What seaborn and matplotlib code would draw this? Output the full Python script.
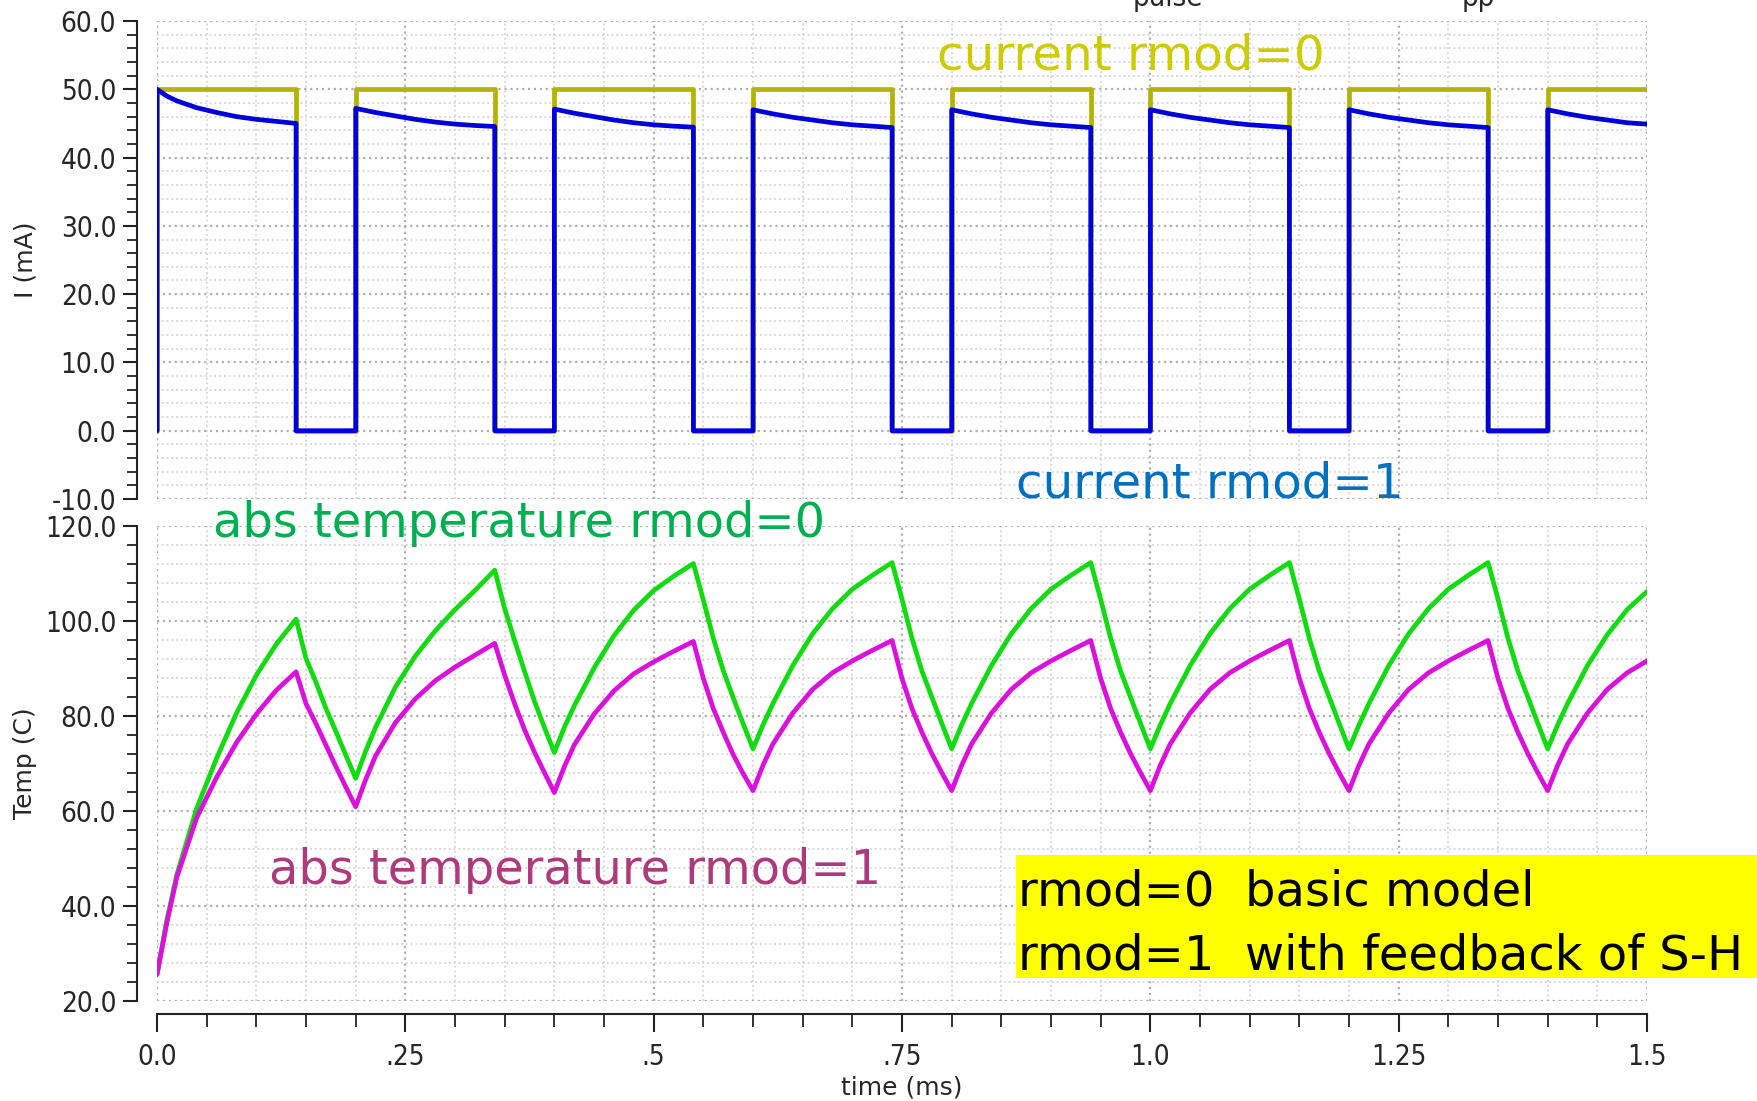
import matplotlib
matplotlib.use("Agg")
import matplotlib.pyplot as plt
import seaborn as sns
import pandas as pd
from matplotlib.ticker import MultipleLocator, FuncFormatter
from matplotlib.patches import Rectangle

# ---------------- data ----------------
# current waveforms (time in ms, current in mA); repeated times give the vertical edges
i_time = [
    0.00, 0.00, 0.01, 0.02, 0.04, 0.06, 0.08, 0.10, 0.12, 0.14, 0.14,
    0.20, 0.20, 0.22, 0.24, 0.26, 0.28, 0.30, 0.32, 0.34, 0.34,
    0.40, 0.40, 0.42, 0.44, 0.46, 0.48, 0.50, 0.52, 0.54, 0.54,
    0.60, 0.60, 0.62, 0.64, 0.66, 0.68, 0.70, 0.72, 0.74, 0.74,
    0.80, 0.80, 0.82, 0.84, 0.86, 0.88, 0.90, 0.92, 0.94, 0.94,
    1.00, 1.00, 1.02, 1.04, 1.06, 1.08, 1.10, 1.12, 1.14, 1.14,
    1.20, 1.20, 1.22, 1.24, 1.26, 1.28, 1.30, 1.32, 1.34, 1.34,
    1.40, 1.40, 1.42, 1.44, 1.46, 1.48, 1.50,
]
current_rmod0 = [
    0.0, 50.0, 50.0, 50.0, 50.0, 50.0, 50.0, 50.0, 50.0, 50.0, 0.0,
    0.0, 50.0, 50.0, 50.0, 50.0, 50.0, 50.0, 50.0, 50.0, 0.0,
    0.0, 50.0, 50.0, 50.0, 50.0, 50.0, 50.0, 50.0, 50.0, 0.0,
    0.0, 50.0, 50.0, 50.0, 50.0, 50.0, 50.0, 50.0, 50.0, 0.0,
    0.0, 50.0, 50.0, 50.0, 50.0, 50.0, 50.0, 50.0, 50.0, 0.0,
    0.0, 50.0, 50.0, 50.0, 50.0, 50.0, 50.0, 50.0, 50.0, 0.0,
    0.0, 50.0, 50.0, 50.0, 50.0, 50.0, 50.0, 50.0, 50.0, 0.0,
    0.0, 50.0, 50.0, 50.0, 50.0, 50.0, 50.0,
]
current_rmod1 = [
    0.0, 50.0, 49.0, 48.3, 47.3, 46.6, 46.0, 45.6, 45.3, 45.0, 0.0,
    0.0, 47.2, 46.6, 46.1, 45.6, 45.2, 44.9, 44.7, 44.55, 0.0,
    0.0, 47.1, 46.5, 46.0, 45.5, 45.1, 44.8, 44.6, 44.45, 0.0,
    0.0, 47.0, 46.4, 45.9, 45.5, 45.1, 44.8, 44.6, 44.4, 0.0,
    0.0, 47.0, 46.4, 45.9, 45.5, 45.1, 44.8, 44.6, 44.4, 0.0,
    0.0, 47.0, 46.4, 45.9, 45.5, 45.1, 44.8, 44.6, 44.4, 0.0,
    0.0, 47.0, 46.4, 45.9, 45.5, 45.1, 44.8, 44.6, 44.4, 0.0,
    0.0, 47.0, 46.4, 45.9, 45.5, 45.1, 44.9,
]

# temperatures (C)
t_time = [
    0.00, 0.01, 0.02, 0.04, 0.06, 0.08, 0.10, 0.12, 0.14, 0.15, 0.16, 0.17, 0.18, 0.19,
    0.20, 0.21, 0.22, 0.24, 0.26, 0.28, 0.30, 0.32, 0.34, 0.35, 0.36, 0.37, 0.38, 0.39,
    0.40, 0.41, 0.42, 0.44, 0.46, 0.48, 0.50, 0.52, 0.54, 0.55, 0.56, 0.57, 0.58, 0.59,
    0.60, 0.61, 0.62, 0.64, 0.66, 0.68, 0.70, 0.72, 0.74, 0.75, 0.76, 0.77, 0.78, 0.79,
    0.80, 0.81, 0.82, 0.84, 0.86, 0.88, 0.90, 0.92, 0.94, 0.95, 0.96, 0.97, 0.98, 0.99,
    1.00, 1.01, 1.02, 1.04, 1.06, 1.08, 1.10, 1.12, 1.14, 1.15, 1.16, 1.17, 1.18, 1.19,
    1.20, 1.21, 1.22, 1.24, 1.26, 1.28, 1.30, 1.32, 1.34, 1.35, 1.36, 1.37, 1.38, 1.39,
    1.40, 1.41, 1.42, 1.44, 1.46, 1.48, 1.50,
]
temp_rmod0 = [
    25.5, 37.0, 46.5, 60.5, 71.0, 80.5, 88.5, 95.0, 100.3, 92.0, 87.0, 81.5, 76.7, 71.7,
    66.8, 72.5, 77.5, 86.0, 92.5, 97.8, 102.3, 106.3, 110.6, 102.5, 95.8, 89.3, 83.0, 77.5,
    72.2, 77.5, 82.0, 90.0, 96.8, 102.2, 106.3, 109.3, 112.0, 104.3, 96.3, 89.5, 83.8, 78.3,
    73.0, 78.0, 82.5, 90.5, 97.2, 102.5, 106.6, 109.5, 112.2, 104.5, 96.3, 89.4, 83.9, 78.4,
    73.0, 78.0, 82.5, 90.5, 97.2, 102.5, 106.6, 109.5, 112.2, 104.5, 96.3, 89.4, 83.9, 78.4,
    73.0, 78.0, 82.5, 90.5, 97.2, 102.5, 106.6, 109.5, 112.2, 104.5, 96.3, 89.4, 83.9, 78.4,
    73.0, 78.0, 82.5, 90.5, 97.2, 102.5, 106.6, 109.5, 112.2, 104.5, 96.3, 89.4, 83.9, 78.4,
    73.0, 78.0, 82.5, 90.5, 97.0, 102.3, 106.1,
]
temp_rmod1 = [
    25.5, 36.5, 46.0, 58.5, 67.0, 74.3, 80.3, 85.3, 89.2, 82.5, 78.3, 73.8, 69.3, 65.0,
    60.8, 66.5, 71.5, 78.5, 83.5, 87.3, 90.2, 92.7, 95.2, 88.5, 82.5, 77.0, 72.3, 68.0,
    63.8, 69.2, 73.8, 80.3, 85.2, 88.8, 91.3, 93.5, 95.6, 87.8, 81.5, 76.5, 71.8, 67.8,
    64.2, 69.5, 74.0, 80.5, 85.5, 89.0, 91.5, 93.7, 95.8, 87.8, 81.5, 76.5, 72.0, 68.0,
    64.2, 69.5, 74.0, 80.5, 85.5, 89.0, 91.5, 93.7, 95.8, 87.8, 81.5, 76.5, 72.0, 68.0,
    64.2, 69.5, 74.0, 80.5, 85.5, 89.0, 91.5, 93.7, 95.8, 87.8, 81.5, 76.5, 72.0, 68.0,
    64.2, 69.5, 74.0, 80.5, 85.5, 89.0, 91.5, 93.7, 95.8, 87.8, 81.5, 76.5, 72.0, 68.0,
    64.2, 69.5, 74.0, 80.5, 85.5, 89.0, 91.5,
]

x_tick_labels = ["0.0", ".25", ".5", ".75", "1.0", "1.25", "1.5"]
legend_lines = ["rmod=0  basic model", "rmod=1  with feedback of S-H"]
title_fragments = ["pulse", "pp"]

# ---------------- style ----------------
sns.set_theme(style="white")
plt.rcParams["font.family"] = ["DejaVu Sans"]

W, H = 1757, 1101
fig = plt.figure(figsize=(W / 100, H / 100), dpi=100)
fig.patch.set_facecolor("white")


def fx(px):
    return px / W


def fy(py):
    return 1 - py / H


L, R = 157, 1647
ax1 = fig.add_axes([fx(L), fy(499), fx(R) - fx(L), fy(21) - fy(499)])
ax2 = fig.add_axes([fx(L), fy(1000.6), fx(R) - fx(L), fy(525.5) - fy(1000.6)], sharex=ax1)

df_i = pd.DataFrame({"time": i_time, "rmod0": current_rmod0, "rmod1": current_rmod1})
df_t = pd.DataFrame({"time": t_time, "rmod0": temp_rmod0, "rmod1": temp_rmod1})

LW = 3.4
sns.lineplot(data=df_i, x="time", y="rmod0", ax=ax1, color="#b4b400", lw=LW,
             estimator=None, sort=False, zorder=3)
sns.lineplot(data=df_i, x="time", y="rmod1", ax=ax1, color="#0000dc", lw=LW,
             estimator=None, sort=False, zorder=4)
sns.lineplot(data=df_t, x="time", y="rmod0", ax=ax2, color="#10dc10", lw=LW,
             estimator=None, sort=False, zorder=3)
sns.lineplot(data=df_t, x="time", y="rmod1", ax=ax2, color="#dc10dc", lw=LW,
             estimator=None, sort=False, zorder=4)

for ax in (ax1, ax2):
    ax.set_facecolor("white")
    ax.set_xlim(0, 1.5)
    ax.xaxis.set_major_locator(MultipleLocator(0.25))
    ax.xaxis.set_minor_locator(MultipleLocator(0.05))
    ax.grid(which="major", ls=":", color="#b0b0b0", lw=1.6)
    ax.grid(which="minor", ls=":", color="#d4d4d4", lw=1.3)
    ax.set_axisbelow(True)
    for s in ("top", "right", "bottom"):
        ax.spines[s].set_visible(False)
    ax.spines["left"].set_visible(True)
    ax.spines["left"].set_position(("outward", 14.4))
    ax.spines["left"].set_color("#222222")
    ax.spines["left"].set_linewidth(1.5)
    ax.tick_params(axis="y", which="major", left=True, length=10, width=1.5,
                   color="#222222", labelsize=20, pad=5, direction="out")
    ax.tick_params(axis="y", which="minor", left=True, length=7, width=1.3,
                   color="#222222", direction="out")
    ax.set_xlabel("")
    ax.set_ylabel("")

ax1.set_ylim(-10, 60)
ax1.yaxis.set_major_locator(MultipleLocator(10))
ax1.yaxis.set_minor_locator(MultipleLocator(2))
ax1.yaxis.set_major_formatter(FuncFormatter(lambda v, p: f"{v:.1f}"))
ax1.tick_params(axis="x", which="both", bottom=False, labelbottom=False)

ax2.set_ylim(20, 120)
ax2.yaxis.set_major_locator(MultipleLocator(20))
ax2.yaxis.set_minor_locator(MultipleLocator(4))
ax2.yaxis.set_major_formatter(FuncFormatter(lambda v, p: f"{v:.1f}"))
ax2.spines["bottom"].set_visible(True)
ax2.spines["bottom"].set_position(("outward", 9.4))
ax2.spines["bottom"].set_color("#222222")
ax2.spines["bottom"].set_linewidth(1.5)
ax2.set_xticks([0, 0.25, 0.5, 0.75, 1.0, 1.25, 1.5])
ax2.set_xticklabels(x_tick_labels)
ax2.tick_params(axis="x", which="major", bottom=True, length=13, width=1.5,
                color="#222222", labelsize=20, pad=8, direction="out")
ax2.tick_params(axis="x", which="minor", bottom=True, length=9, width=1.3,
                color="#222222", direction="out")

for ax in (ax1, ax2):
    for lab in ax.get_yticklabels() + ax.get_xticklabels():
        lab.set_fontstretch("condensed")

# axis labels
fig.text(fx(25), fy(260), "I (mA)", rotation=90, ha="center", va="center", fontsize=18)
fig.text(fx(25), fy(763), "Temp (C)", rotation=90, ha="center", va="center", fontsize=18)
fig.text(fx(902), fy(1087), "time (ms)", ha="center", va="center", fontsize=18)

# cut-off title remnants at the very top edge (the reference's title is clipped there)
fig.text(fx(1168), fy(6), title_fragments[0], ha="center", va="baseline", fontsize=21,
         fontstretch="condensed")
fig.text(fx(1478), fy(6), title_fragments[1], ha="center", va="baseline", fontsize=21,
         fontstretch="condensed")

# annotations
fig.text(fx(937), fy(69.5), "current rmod=0", color="#cccc00", fontsize=34.8, va="baseline")
fig.text(fx(1016), fy(497.5), "current rmod=1", color="#0070c0", fontsize=34.8, va="baseline")
fig.text(fx(213), fy(537), "abs temperature rmod=0", color="#00b050", fontsize=34.5, va="baseline")
fig.text(fx(269), fy(884), "abs temperature rmod=1", color="#ae3a7e", fontsize=34.5, va="baseline")

fig.add_artist(Rectangle((fx(1016), fy(978)), fx(W) - fx(1016) + 0.01, fy(855) - fy(978),
                         transform=fig.transFigure, facecolor="#ffff00", edgecolor="none",
                         zorder=5))
fig.text(fx(1018), fy(905), legend_lines[0], color="black", fontsize=34.6, va="baseline", zorder=6)
fig.text(fx(1018), fy(969), legend_lines[1], color="black", fontsize=34.6, va="baseline", zorder=6)

fig.savefig("out.png", dpi=100, facecolor="white")
